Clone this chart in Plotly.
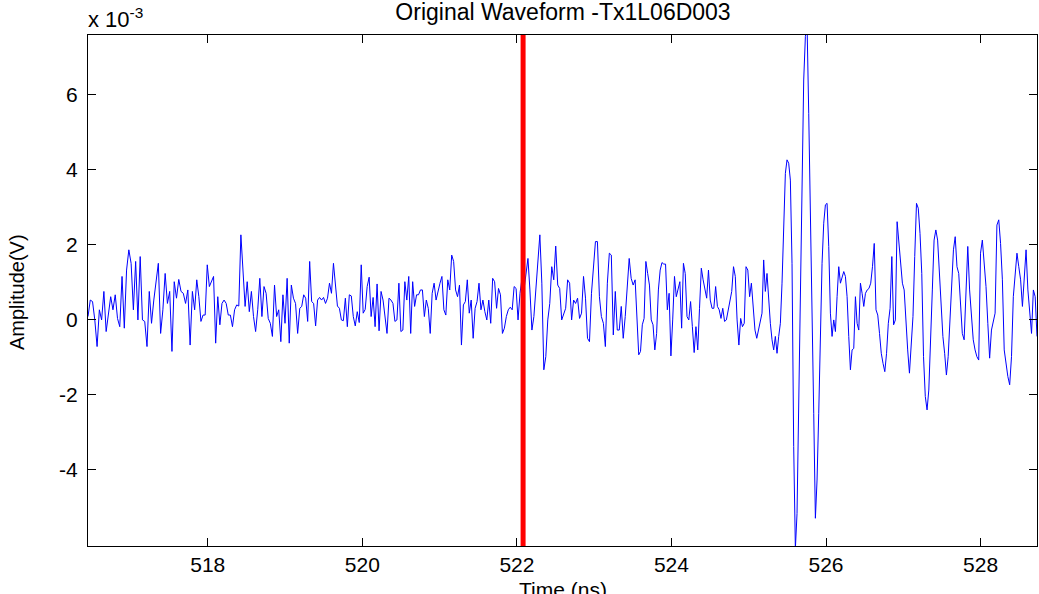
import numpy as np
import plotly.graph_objects as go

# Amplitude samples, in units of 1e-3 V, read segment by segment
seg1 = [0.09, 0.53, 0.49, 0.0, -0.71, 0.27, 0.0, 0.76, -0.31, 0.13, 0.62, 0.27, 0.67, 0.04, -0.18, 1.16,
        -0.22, 1.33, 1.87, 1.51, 0.27, 1.56, 0.0, 1.69, 0.0, -0.04, -0.71, 0.76, -0.09, 0.53, 1.07, 1.51,
        -0.36, 0.27, 1.24, 0.44, 0.76, -0.84, 1.02, 0.58, 1.08, 0.76, 0.71, 0.44, 0.8, -0.67, 0.76, 0.27]
seg2 = [1.07, 0.62, -0.04, 0.13, 0.13, 1.47, 0.89, 1.02, 1.16, -0.62, 0.62, -0.13, 0.44, 0.53, 0.44, 0.13,
        0.13, -0.18, 0.27, 0.4, 0.37, 2.27, 1.24, 0.36, 1.02, 0.22, 0.76, 0.09, -0.31, 0.27, 1.11, 0.09,
        0.89, 0.71, 0.04, -0.09, -0.44, 0.93, 0.09, 0.27, -0.58, 0.67, -0.09, 1.11, -0.62, 0.93, 0.58,
        0.44, -0.36, 0.31]
seg3 = [0.36, 0.67, 0.58, -0.04, 1.56, 0.49, 0.44, -0.16, 0.53, 0.6, 0.53, 0.6, 0.44, 0.58, 0.98, 0.71,
        1.51, 0.89, 0.37, 0.31, 0.0, -0.02, 0.58, -0.18, 0.67, 0.64, 0.09, -0.16, 0.22, -0.07, 1.47, 0.18,
        0.28, 0.89, 1.14, 0.09, 0.6, -0.18, 0.96, -0.29, 0.76, 0.53, 0.0, -0.36, 0.58, 0.53, 0.44, -0.04,
        0.0, 0.98, -0.31, -0.27, 1.02]
seg4 = [0.53, 1.16, -0.36, 1.02, 0.36, 0.67, 0.67, 0.8, 0.8, 0.09, 0.53, 0.31, -0.36, 0.71, 0.98, 0.53,
        0.8, 0.98, 1.16, 0.27, 0.13, 1.07, 0.8, 1.73, 1.56, 0.8, 0.62, 0.93, -0.67, 0.4, 0.49, 1.07, 0.18,
        0.53, -0.49, 0.31, 0.49, 0.98, 0.27, 0.53, 0.22, 0.0, 0.53, -0.09, 1.11, 1.02, 0.31, 0.84, 0.67,
        -0.36, -0.22, 0.09, 0.27, 0.34, 0.27, 0.89, 0.84, 0.0, 0.71]
seg5 = [1.11, 0.8, 1.3, 1.64, 0.8, -0.27, 0.09, 0.8, 1.42, 2.27, 0.98, -1.33, -0.98, 0.0, 0.44, 1.42,
        1.07, 1.97, 0.93, 0.84, 0.0, 0.13, 0.31, 1.07, 0.98, 0.0, 0.53, 0.44, 0.58, 0.04, 0.18, 1.16, 0.58,
        -0.49, -0.58, 0.71, 1.47, 2.09, 2.09, 0.62, 0.09, -0.09, -0.71, 0.98, 1.78, 1.73, -0.4, 0.76,
        -0.27, -0.27, 0.36, -0.49, 0.09, 0.89, 1.64, 1.11, 0.93, 1.07]
seg6 = [0.0, -0.93, -0.84, -0.13, 0.04, 1.56, 1.24, 0.93, 0.0, -0.13, -0.8, -0.36, 0.8, 1.33, 1.53,
        1.49, 1.49, 0.27, 0.71, -0.96, 0.0, 1.16, 0.62, 0.8, 1.02, -0.22, 1.51, 1.24, 0.09, 0.0, 0.49,
        -0.18, -0.87, -0.18, -0.8, 0.31, 1.38, 1.07, 0.8, 0.58, 1.33, 0.53, 0.31, 0.31, 0.89, 0.36, 0.27,
        0.04, 0.31, -0.04, 0.0, 0.27, 0.53, 0.76, 1.42, 1.16, 0.0, -0.67, 0.04, -0.18, -0.09, 1.42, 1.33,
        0.62, 0.98, 0.31, -0.27, -0.49, -0.27, -0.09]
seg7 = [0.18, 1.6, 0.76, 1.24, 0.44, -0.09, -0.53, -0.8, -0.44, -0.89, -0.44, -0.09, 0.98, 2.58, 3.91,
        4.27, 4.18, 3.73, 1.51, -3.38, -6.1, -5.16, -2.04, 1.51, 4.18, 6.4, 7.56, 7.9, 5.51, 2.4, -0.71,
        -2.49, -5.29, -4.27, -2.49, -0.27, 1.51, 2.58, 3.07, 3.11, 1.96, 0.18, -0.44, 0.0, -0.31, 0.62,
        1.42, 0.98, 1.16, 1.29, 1.16, 0.62, -0.44, -1.33, -0.8, -0.76, 0.62, -0.09, -0.27, 0.98, 0.71,
        0.36, 0.71]
seg8 = [0.8, 0.84, 0.98, 1.42, 2.04, 0.27, 0.13, -0.36, -0.89, -1.16, -1.38, -0.89, -0.09, 0.31, 1.69,
        -0.13, 0.0, 2.62, 2.13, 1.6, 0.98, 0.8, -0.09, -0.8, -1.42, -0.71, 0.09, 1.69, 3.11, 2.98, 2.31,
        1.24, -0.98, -2.04, -2.4, -1.87, -0.71, 0.8, 2.13, 2.4, 2.13, 1.24, 0.18, -0.44, -0.89, -1.47,
        -0.98, 0.09, 1.16, 1.87, 2.22, 1.42, 1.24, 0.36]
seg9 = [-0.36, -0.53, 0.8, 1.96, 0.8, 0.09, -0.53, -0.8, -0.98, -1.07, 1.78, 2.13, 1.6, 0.89, -0.09,
        -1.02, -0.27, 0.0, 0.18, 2.53, 2.67, 2.04, 1.07, -0.8, -1.24, -1.51, -1.73, -0.98, 0.62, 1.16,
        1.78, 1.42, 1.07, 0.36, 1.07, 1.87, 0.8, 0.18, -0.36, 0.8, 0.62, -0.44]
segments = [seg1, seg2, seg3, seg4, seg5, seg6, seg7, seg8, seg9]
# time (ns) at segment boundaries
seg_times = [516.45, 517.83, 519.19, 520.55, 522.04, 523.53, 525.15, 526.51, 527.74, 528.73]

marker_time = 522.08
x_ticks = [518, 520, 522, 524, 526, 528]
y_ticks = [-4, -2, 0, 2, 4, 6]
x_range = [516.45, 528.73]
y_range = [-6.03, 7.6]

times, amps = [], []
for i, s in enumerate(segments):
    a, b = seg_times[i], seg_times[i + 1]
    tt = np.linspace(a, b, len(s)) if i == 0 else np.linspace(a, b, len(s) + 1)[1:]
    times.extend(tt.tolist())
    amps.extend(s)

FONT = "Liberation Sans, Arial, sans-serif"
W, H = 1039, 594
ML, MR, MT, MB = 88, 2, 35, 48
PW, PH = W - ML - MR, H - MT - MB


def px_y(y):
    return ((MT + PH) - y) / PH


def px_x(x):
    return (x - ML) / PW


fig = go.Figure()
fig.add_trace(go.Scatter(x=times, y=amps, mode="lines",
                         line=dict(color="#0000ff", width=1), showlegend=False))
fig.add_shape(type="line", x0=marker_time, x1=marker_time, y0=0, y1=1,
              xref="x", yref="paper", line=dict(color="#ff0000", width=5))

axis_common = dict(showline=True, linecolor="black", linewidth=1, mirror="allticks",
                   ticks="inside", ticklen=8, tickcolor="black", showgrid=False,
                   zeroline=False, automargin=False,
                   tickfont=dict(family=FONT, size=21, color="black"))
fig.update_xaxes(range=x_range, tickvals=x_ticks, ticktext=[str(v) for v in x_ticks],
                 **axis_common)
fig.update_yaxes(range=y_range, tickvals=y_ticks, ticktext=[str(v) for v in y_ticks],
                 ticklabelstandoff=5, **axis_common)

fig.update_layout(
    width=W, height=H,
    margin=dict(l=ML, r=MR, t=MT, b=MB, autoexpand=False),
    paper_bgcolor="white", plot_bgcolor="white",
    title=dict(text="Original Waveform -Tx1L06D003", x=px_x(563), xref="paper",
               xanchor="center", y=1 - 12 / H, yref="container", yanchor="middle",
               font=dict(family=FONT, size=23, color="black")),
    annotations=[
        dict(text="x 10<sup>-3</sup>", xref="paper", yref="paper", x=px_x(86), y=px_y(18),
             xanchor="left", yanchor="middle", showarrow=False,
             font=dict(family=FONT, size=22, color="black")),
        dict(text="Time (ns)", xref="paper", yref="paper", x=px_x(563), y=px_y(589),
             xanchor="center", yanchor="middle", showarrow=False,
             font=dict(family=FONT, size=21, color="black")),
        dict(text="Amplitude(V)", xref="paper", yref="paper", x=px_x(17), y=px_y(292),
             xanchor="center", yanchor="middle", showarrow=False, textangle=-90,
             font=dict(family=FONT, size=20, color="black")),
    ],
)

fig.write_html("out.html", config={"displayModeBar": False},
               post_script="document.body.style.margin='0px';document.body.style.overflow='hidden';")
